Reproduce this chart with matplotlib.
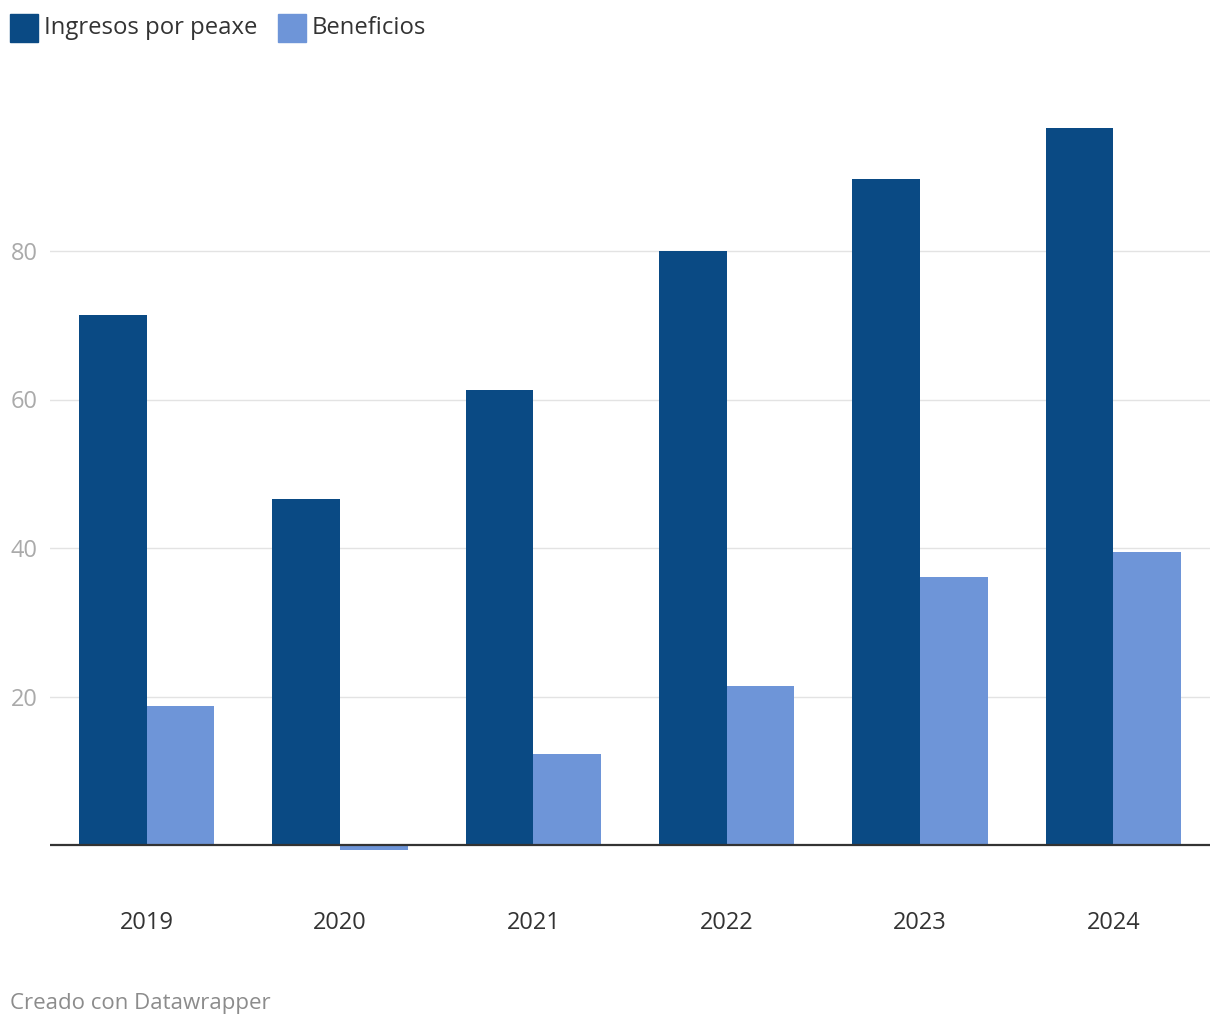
"""Ingresos por peaxe vs beneficios, 2019-2024."""

import matplotlib.pyplot as plt
import numpy as np
from matplotlib.patches import Rectangle

plt.rcParams["font.family"] = ["Open Sans", "DejaVu Sans"]

years = ["2019", "2020", "2021", "2022", "2023", "2024"]
ingresos = [71.4, 46.6, 61.3, 80.0, 89.7, 96.6]
beneficios = [18.7, -0.7, 12.3, 21.4, 36.1, 39.5]
series_names = ["Ingresos por peaxe", "Beneficios"]
yticks = [20, 40, 60, 80]

dark = "#0a4a84"
light = "#6e95d8"

W, H = 1220, 1028
fig = plt.figure(figsize=(W / 100, H / 100), dpi=100)

# axes placed so that 0 and 80 land where the reference puts them
ymin, ymax = -4, 100
px_per_unit = 7.425
top_px = 845 - ymax * px_per_unit
bot_px = 845 - ymin * px_per_unit
ax = fig.add_axes([50 / W, 1 - bot_px / H, 1160 / W, (bot_px - top_px) / H])

x = np.arange(len(years))
w = 0.35
ax.bar(x - w / 2, ingresos, w, color=dark, zorder=3)
ax.bar(x + w / 2, beneficios, w, color=light, zorder=3)

ax.set_xlim(-0.5, 5.5)
ax.set_ylim(ymin, ymax)

for t in yticks:
    ax.axhline(t, color="#e3e3e3", lw=1, zorder=1)
ax.axhline(0, color="#333333", lw=1.6, zorder=4)

ax.set_yticks(yticks)
ax.set_yticklabels([str(t) for t in yticks])
ax.tick_params(axis="y", length=0, pad=9, labelsize=17, labelcolor="#aaaaaa")
ax.set_xticks(x)
ax.set_xticklabels(years)
ax.tick_params(axis="x", length=0, pad=26, labelsize=17, labelcolor="#333333")

for s in ax.spines.values():
    s.set_visible(False)

# legend across the top
fig.patches.append(Rectangle((10 / W, 1 - 42 / H), 28 / W, 28 / H,
                             transform=fig.transFigure, color=dark))
fig.text(44 / W, 1 - 28 / H, series_names[0], fontsize=17.2, color="#333333",
         va="center", ha="left")
fig.patches.append(Rectangle((278 / W, 1 - 42 / H), 28 / W, 28 / H,
                             transform=fig.transFigure, color=light))
fig.text(312 / W, 1 - 28 / H, series_names[1], fontsize=17.2, color="#333333",
         va="center", ha="left")

fig.text(10 / W, 1 - 1003 / H, "Creado con Datawrapper", fontsize=16,
         color="#8c8c8c", va="center", ha="left")

fig.savefig("out.png", dpi=100, facecolor="white")
